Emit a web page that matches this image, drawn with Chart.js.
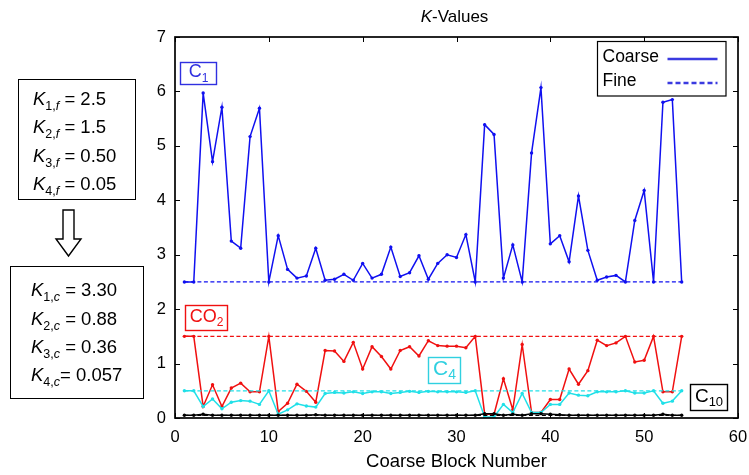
<!DOCTYPE html>
<html>
<head>
<meta charset="utf-8">
<script src="https://cdn.jsdelivr.net/npm/chart.js@4"></script>
<style>
  html, body { margin: 0; padding: 0; background: #fff; }
  #wrap { position: relative; width: 749px; height: 475px; font-family: "Liberation Sans", Arial, sans-serif; }
  #chart { position: absolute; left: 0; top: 0; }
  .kbox { position: absolute; border: 1.5px solid #000; box-sizing: border-box; font-size: 18.5px; color: #000; }
  .kbox div { position: absolute; white-space: nowrap; line-height: 1; }
  .kbox i { font-style: italic; }
  .kbox sub { font-size: 12.5px; vertical-align: -5px; line-height: 0; }
  #arrow { position: absolute; left: 50px; top: 208px; }
</style>
</head>
<body>
<div id="wrap">
  <canvas id="chart" width="749" height="475"></canvas>

  <div class="kbox" style="left:18px;top:79px;width:118px;height:121px;">
    <div style="left:14px;top:10px;"><i>K</i><sub>1,<i>f</i></sub> = 2.5</div>
    <div style="left:14px;top:38px;"><i>K</i><sub>2,<i>f</i></sub> = 1.5</div>
    <div style="left:14px;top:67px;"><i>K</i><sub>3,<i>f</i></sub> = 0.50</div>
    <div style="left:14px;top:95px;"><i>K</i><sub>4,<i>f</i></sub> = 0.05</div>
  </div>

  <svg id="arrow" width="40" height="52" viewBox="0 0 40 52">
    <path d="M13 2 L24 2 L24 31 L31 31 L18.5 48 L6 31 L13 31 Z" fill="#fff" stroke="#000" stroke-width="1.4"/>
  </svg>

  <div class="kbox" style="left:10px;top:266px;width:134px;height:133px;">
    <div style="left:20px;top:14px;"><i>K</i><sub>1,<i>c</i></sub> = 3.30</div>
    <div style="left:20px;top:43px;"><i>K</i><sub>2,<i>c</i></sub> = 0.88</div>
    <div style="left:20px;top:71px;"><i>K</i><sub>3,<i>c</i></sub> = 0.36</div>
    <div style="left:20px;top:99px;"><i>K</i><sub>4,<i>c</i></sub>= 0.057</div>
  </div>
</div>

<script>
// Coarse block numbers 1..54
const blocks = [1,2,3,4,5,6,7,8,9,10,11,12,13,14,15,16,17,18,19,20,21,22,23,24,25,26,27,
                28,29,30,31,32,33,34,35,36,37,38,39,40,41,42,43,44,45,46,47,48,49,50,51,52,53,54];

// Coarse K-values per block
const kC1 = [2.50,2.50,5.97,4.71,5.71,3.25,3.12,5.17,5.69,2.50,3.35,2.73,2.57,2.61,3.12,2.53,2.55,2.64,2.53,2.84,
             2.57,2.64,3.14,2.60,2.67,2.98,2.55,2.84,3.00,2.95,3.37,2.50,5.39,5.21,2.57,3.18,2.50,4.87,6.07,3.20,
             3.35,2.87,4.08,3.08,2.53,2.59,2.62,2.50,3.63,4.18,2.50,5.80,5.85,2.50];
const kCO2 = [1.50,1.50,0.21,0.61,0.21,0.55,0.64,0.48,0.48,1.50,0.12,0.27,0.62,0.49,0.29,1.24,1.23,1.04,1.39,0.90,
              1.31,1.13,0.90,1.24,1.31,1.14,1.42,1.33,1.32,1.32,1.29,1.50,0.07,0.07,0.72,0.15,1.35,0.10,0.10,0.34,
              0.34,0.90,0.62,0.87,1.43,1.33,1.38,1.50,1.03,1.06,1.50,0.48,0.48,1.50];
const kC4 = [0.50,0.50,0.21,0.35,0.17,0.29,0.32,0.31,0.25,0.50,0.07,0.15,0.26,0.22,0.20,0.45,0.47,0.46,0.48,0.45,
             0.48,0.48,0.45,0.47,0.49,0.47,0.49,0.48,0.48,0.48,0.47,0.50,0.02,0.02,0.25,0.10,0.45,0.10,0.10,0.25,
             0.25,0.46,0.42,0.41,0.48,0.48,0.48,0.50,0.46,0.46,0.50,0.27,0.31,0.50];
const kC10 = [0.05,0.05,0.07,0.05,0.05,0.05,0.05,0.05,0.05,0.05,0.05,0.05,0.05,0.05,0.06,0.05,0.05,0.05,0.05,0.05,
              0.05,0.05,0.05,0.05,0.05,0.05,0.05,0.05,0.05,0.05,0.05,0.05,0.08,0.08,0.05,0.07,0.05,0.08,0.08,0.07,
              0.06,0.05,0.05,0.05,0.05,0.05,0.05,0.05,0.05,0.05,0.05,0.07,0.05,0.05];

// Fine-scale K-values (constant over all blocks)
const fineK = { C1: 2.5, CO2: 1.5, C4: 0.50, C10: 0.05 };

const xTicks = [0,10,20,30,40,50,60];
const yTicks = [0,1,2,3,4,5,6,7];

const BLUE = '#1010f0', RED = '#f01010', CYAN = '#20e0e8', BLACK = '#000000';
const FONT = '"Liberation Sans", Arial, sans-serif';

function coarse(values, color) {
  return {
    data: blocks.map((b, i) => ({ x: b, y: values[i] })),
    borderColor: color, backgroundColor: color,
    borderWidth: 1.5, pointRadius: 1.7, pointHoverRadius: 1.7, pointBorderWidth: 0,
    tension: 0
  };
}
function fine(value, color) {
  return {
    data: [{ x: blocks[0], y: value }, { x: blocks[blocks.length - 1], y: value }],
    borderColor: color, borderWidth: 1.3, borderDash: [4, 2.5],
    pointRadius: 0, tension: 0
  };
}

// Frame, inward ticks, title, legend and species labels
const decor = {
  id: 'decor',
  afterDatasetsDraw(chart) {
    const { ctx, chartArea: a, scales: { x, y } } = chart;
    ctx.save();
    ctx.strokeStyle = '#000';
    ctx.lineWidth = 1.7;
    ctx.strokeRect(a.left, a.top, a.right - a.left, a.bottom - a.top);
    ctx.lineWidth = 1;
    const t = 5;
    xTicks.forEach(v => {
      const px = Math.round(x.getPixelForValue(v)) + 0.5;
      ctx.beginPath();
      ctx.moveTo(px, a.bottom); ctx.lineTo(px, a.bottom - t);
      ctx.moveTo(px, a.top); ctx.lineTo(px, a.top + t);
      ctx.stroke();
    });
    yTicks.forEach(v => {
      const py = Math.round(y.getPixelForValue(v)) + 0.5;
      ctx.beginPath();
      ctx.moveTo(a.left, py); ctx.lineTo(a.left + t, py);
      ctx.moveTo(a.right, py); ctx.lineTo(a.right - t, py);
      ctx.stroke();
    });

    // Title
    const cx = (a.left + a.right) / 2;
    ctx.fillStyle = '#000';
    ctx.textBaseline = 'middle';
    ctx.font = 'italic 17px ' + FONT;
    const kW = ctx.measureText('K').width;
    ctx.font = '17px ' + FONT;
    const restW = ctx.measureText('-Values').width;
    const sx = cx - (kW + restW) / 2 - 2;
    ctx.textAlign = 'left';
    ctx.font = 'italic 17px ' + FONT;
    ctx.fillText('K', sx, 17);
    ctx.font = '17px ' + FONT;
    ctx.fillText('-Values', sx + kW, 17);

    // X axis title
    ctx.textAlign = 'center';
    ctx.font = '18.5px ' + FONT;
    ctx.fillText('Coarse Block Number', cx, 462);

    // Legend
    const lx = 597.5, ly = 41.5, lw = 128.5, lh = 54.5;
    ctx.fillStyle = '#fff';
    ctx.fillRect(lx, ly, lw, lh);
    ctx.strokeStyle = '#000'; ctx.lineWidth = 1.2;
    ctx.strokeRect(lx, ly, lw, lh);
    ctx.fillStyle = '#000';
    ctx.textAlign = 'left';
    ctx.font = '17.5px ' + FONT;
    ctx.fillText('Coarse', lx + 5, ly + 15.5);
    ctx.fillText('Fine', lx + 5, ly + 40);
    ctx.strokeStyle = '#3a3ae0'; ctx.lineWidth = 2.4;
    ctx.beginPath(); ctx.moveTo(lx + 70, ly + 17.5); ctx.lineTo(lx + 120, ly + 17.5); ctx.stroke();
    ctx.setLineDash([5, 3]);
    ctx.beginPath(); ctx.moveTo(lx + 70, ly + 41.5); ctx.lineTo(lx + 120, ly + 41.5); ctx.stroke();
    ctx.setLineDash([]);

    // Species labels
    function tag(px, py, w, h, main, sub, color, size) {
      ctx.fillStyle = '#fff';
      ctx.fillRect(px, py, w, h);
      ctx.strokeStyle = color; ctx.lineWidth = 1.4;
      ctx.strokeRect(px, py, w, h);
      ctx.fillStyle = color;
      const subSize = Math.round(size * 0.68);
      ctx.font = size + 'px ' + FONT;
      const mw = ctx.measureText(main).width;
      ctx.font = subSize + 'px ' + FONT;
      const sw = ctx.measureText(sub).width;
      const start = px + (w - mw - sw) / 2;
      ctx.textAlign = 'left';
      ctx.font = size + 'px ' + FONT;
      ctx.fillText(main, start, py + h / 2 - 1);
      ctx.font = subSize + 'px ' + FONT;
      ctx.fillText(sub, start + mw, py + h / 2 + 5);
    }
    tag(180.5, 62.5, 36, 22, 'C', '1', '#3030e0', 18);
    tag(185.5, 305.5, 42, 25, 'CO', '2', '#f01010', 18);
    tag(428.5, 357.5, 32, 26, 'C', '4', '#30d0e0', 21);
    tag(690.5, 384.5, 37, 26, 'C', '10', '#000', 19);
    ctx.restore();
  }
};

new Chart(document.getElementById('chart'), {
  type: 'line',
  data: {
    datasets: [
      fine(fineK.C10, BLACK), coarse(kC10, BLACK),
      fine(fineK.C4, CYAN), coarse(kC4, CYAN),
      fine(fineK.CO2, RED), coarse(kCO2, RED),
      fine(fineK.C1, BLUE), coarse(kC1, BLUE)
    ]
  },
  options: {
    responsive: false,
    animation: false,
    events: [],
    layout: { padding: { left: 140, right: 11, top: 37, bottom: 0 } },
    plugins: { legend: { display: false }, tooltip: { enabled: false }, title: { display: false } },
    scales: {
      x: {
        type: 'linear', min: 0, max: 60,
        afterFit: s => { s.height = 57; s.paddingLeft = 0; s.paddingRight = 0; },
        afterBuildTicks: s => { s.ticks = xTicks.map(v => ({ value: v })); },
        grid: { display: false, drawTicks: false },
        border: { display: false },
        ticks: { color: '#000', padding: 10, font: { family: FONT, size: 16.5 }, maxRotation: 0 }
      },
      y: {
        type: 'linear', min: 0, max: 7,
        afterFit: s => { s.width = 35; s.paddingTop = 0; s.paddingBottom = 0; },
        afterBuildTicks: s => { s.ticks = yTicks.map(v => ({ value: v })); },
        grid: { display: false, drawTicks: false },
        border: { display: false },
        ticks: { color: '#000', padding: 9, font: { family: FONT, size: 16.5 } }
      }
    }
  },
  plugins: [decor]
});
</script>
</body>
</html>
